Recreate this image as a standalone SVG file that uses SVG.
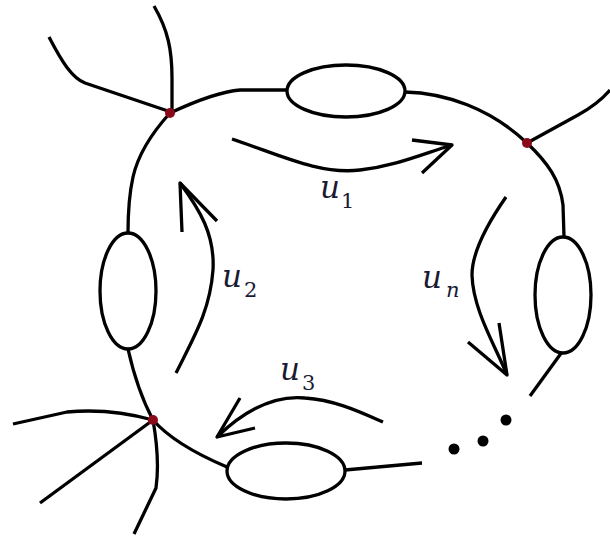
<svg xmlns="http://www.w3.org/2000/svg" width="610" height="537" viewBox="0 0 610 537">
<style>
.ln{fill:none;stroke:#000;stroke-width:3.3;stroke-linecap:butt;stroke-linejoin:round}
.el{fill:#fff;stroke:#000;stroke-width:3.3}
.jn{fill:#8b0a1a}
.dt{fill:#000}
.lb{font-family:"DejaVu Serif",serif;font-style:italic;font-size:31px;fill:#1a1a33}
.sb{font-family:"DejaVu Serif",serif;font-size:21px;fill:#1a1a33}
</style>
<rect width="610" height="537" fill="#fff"/>
<g id="connectors">
  <path class="ln" d="M170,113 Q215,92 240,90 L287,90"/>
  <path class="ln" d="M405,92 C445,93 490,108 527,143"/>
  <path class="ln" d="M527,143 C548,163 560,180 563,205 L564,237"/>
  <path class="ln" d="M562,352 L530,396"/>
  <path class="ln" d="M527,143 L578,115 Q598,104 610,90"/>
  <path class="ln" d="M172,112 L172,78 C172,50 168,30 154,6"/>
  <path class="ln" d="M168,111 L85,83 C72,78 62,62 49,37"/>
  <path class="ln" d="M170,113 C150,135 138,155 133,177 C129,195 128,215 128,233"/>
  <path class="ln" d="M128,349 C135,380 145,405 153,420"/>
  <path class="ln" d="M153,420 Q110,408 67,412 L13,424"/>
  <path class="ln" d="M153,420 L40,503"/>
  <path class="ln" d="M153,420 Q160,460 156,488 L134,534"/>
  <path class="ln" d="M153,420 Q175,445 227,467"/>
  <path class="ln" d="M345,470 L422,463"/>
</g>
<g id="node-top"><ellipse class="el" cx="346" cy="91" rx="59" ry="26"/></g>
<g id="node-right"><ellipse class="el" cx="563" cy="295" rx="28" ry="58"/></g>
<g id="node-left"><ellipse class="el" cx="128" cy="291" rx="28" ry="58"/></g>
<g id="node-bottom"><ellipse class="el" cx="286" cy="471" rx="59" ry="28"/></g>
<g id="junction-nw"><circle class="jn" cx="170" cy="113" r="5"/></g>
<g id="junction-ne"><circle class="jn" cx="527" cy="143" r="5"/></g>
<g id="junction-sw"><circle class="jn" cx="153" cy="420" r="5"/></g>
<g id="ellipsis">
  <circle class="dt" cx="454" cy="449" r="5.5"/>
  <circle class="dt" cx="483" cy="441" r="5.5"/>
  <circle class="dt" cx="506" cy="420" r="5.5"/>
</g>
<g id="arrow-u1">
  <path class="ln" d="M232,139 C280,155 320,175 360,170 C395,166 420,155 452,145"/>
  <path class="ln" d="M412,140 L452,145 L422,173"/>
  <text class="lb" x="320" y="198">u</text><text class="sb" x="341" y="208">1</text>
</g>
<g id="arrow-u2">
  <path class="ln" d="M176,373 C195,335 210,310 213,270 C215,235 200,210 180,183"/>
  <path class="ln" d="M182,232 L180,183 L217,221"/>
  <text class="lb" x="222" y="287">u</text><text class="sb" x="244" y="297">2</text>
</g>
<g id="arrow-u3">
  <path class="ln" d="M217,437 C245,410 275,395 305,398 C335,400 360,412 383,422"/>
  <path class="ln" d="M240,398 L217,437 L255,428"/>
  <text class="lb" x="280" y="380">u</text><text class="sb" x="302" y="390">3</text>
</g>
<g id="arrow-un">
  <path class="ln" d="M506,197 C490,220 472,250 472,275 C473,310 495,345 507,375"/>
  <path class="ln" d="M499,323 L507,375 L468,342"/>
  <text class="lb" x="422" y="288">u</text><text class="sb" x="446" y="297" font-style="italic">n</text>
</g>
</svg>
